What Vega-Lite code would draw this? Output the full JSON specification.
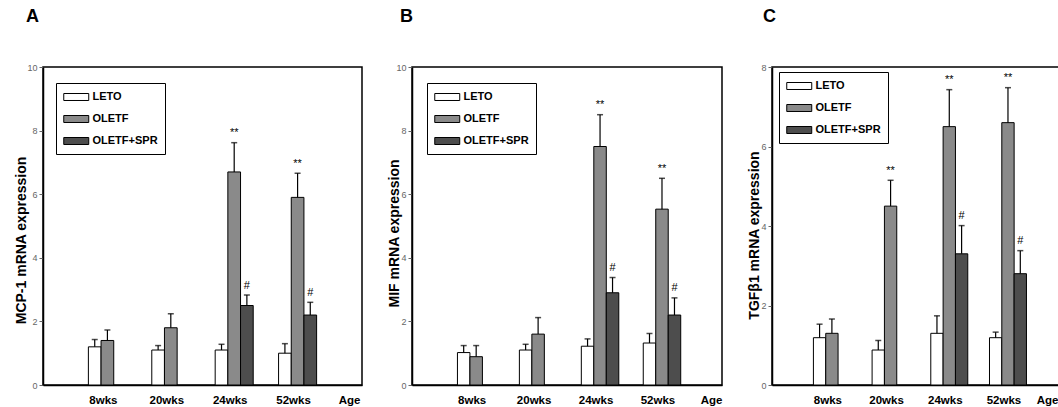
{
  "$schema": "https://vega.github.io/schema/vega-lite/v6.json",
  "autosize": {"type": "pad"},
  "padding": {"left": 13, "top": 7, "right": 0, "bottom": 0},
  "background": "white",
  "config": {
    "view": {"stroke": "black", "strokeWidth": 1.5},
    "font": "Liberation Sans",
    "title": {"anchor": "start", "frame": "group", "fontSize": 18, "fontWeight": "bold", "color": "black", "font": "Liberation Sans", "offset": 37},
    "axisY": {"grid": false, "domainColor": "black", "domainWidth": 1.5, "tickColor": "#666", "tickSize": 4, "labelColor": "#666", "labelFontSize": 9, "labelPadding": 2, "titleFontSize": 14, "titleFontWeight": "bold", "titleColor": "black", "titleX": -22, "titleBaseline": "middle", "titleAlign": "center"},
    "axisX": {"labelAngle": 0, "ticks": false, "tickSize": 0, "labelPadding": 9, "labelFontSize": 11.5, "labelFontWeight": "bold", "labelColor": "black", "labelOffset": -4, "domainColor": "black", "domainWidth": 1.5, "titleY": 18, "titleAlign": "right", "titleBaseline": "alphabetic", "titleFontSize": 11.5, "titleFontWeight": "bold", "titleColor": "black"},
    "legend": {"orient": "none", "title": null, "strokeColor": "black", "fillColor": "white", "padding": 7, "symbolType": "M-1,-0.56H3V0.56H-1Z", "symbolSize": 156, "symbolStrokeColor": "black", "symbolStrokeWidth": 1, "labelFontSize": 11, "labelFontWeight": "bold", "labelColor": "black", "labelFont": "Liberation Sans", "rowPadding": 9, "labelOffset": 15.5}
  },
  "data": {"values": [
    {"panel": "A", "age": "8wks", "group": "LETO", "value": 1.2, "err": 1.43, "sig": ""},
    {"panel": "A", "age": "8wks", "group": "OLETF", "value": 1.4, "err": 1.73, "sig": ""},
    {"panel": "A", "age": "20wks", "group": "LETO", "value": 1.1, "err": 1.24, "sig": ""},
    {"panel": "A", "age": "20wks", "group": "OLETF", "value": 1.8, "err": 2.24, "sig": ""},
    {"panel": "A", "age": "24wks", "group": "LETO", "value": 1.1, "err": 1.28, "sig": ""},
    {"panel": "A", "age": "24wks", "group": "OLETF", "value": 6.7, "err": 7.62, "sig": "**"},
    {"panel": "A", "age": "24wks", "group": "OLETF+SPR", "value": 2.5, "err": 2.83, "sig": "#"},
    {"panel": "A", "age": "52wks", "group": "LETO", "value": 1.0, "err": 1.3, "sig": ""},
    {"panel": "A", "age": "52wks", "group": "OLETF", "value": 5.9, "err": 6.66, "sig": "**"},
    {"panel": "A", "age": "52wks", "group": "OLETF+SPR", "value": 2.2, "err": 2.6, "sig": "#"},
    {"panel": "B", "age": "8wks", "group": "LETO", "value": 1.02, "err": 1.24, "sig": ""},
    {"panel": "B", "age": "8wks", "group": "OLETF", "value": 0.89, "err": 1.24, "sig": ""},
    {"panel": "B", "age": "20wks", "group": "LETO", "value": 1.1, "err": 1.28, "sig": ""},
    {"panel": "B", "age": "20wks", "group": "OLETF", "value": 1.6, "err": 2.12, "sig": ""},
    {"panel": "B", "age": "24wks", "group": "LETO", "value": 1.22, "err": 1.45, "sig": ""},
    {"panel": "B", "age": "24wks", "group": "OLETF", "value": 7.5, "err": 8.5, "sig": "**"},
    {"panel": "B", "age": "24wks", "group": "OLETF+SPR", "value": 2.9, "err": 3.38, "sig": "#"},
    {"panel": "B", "age": "52wks", "group": "LETO", "value": 1.32, "err": 1.62, "sig": ""},
    {"panel": "B", "age": "52wks", "group": "OLETF", "value": 5.53, "err": 6.5, "sig": "**"},
    {"panel": "B", "age": "52wks", "group": "OLETF+SPR", "value": 2.2, "err": 2.74, "sig": "#"},
    {"panel": "C", "age": "8wks", "group": "LETO", "value": 1.19, "err": 1.53, "sig": ""},
    {"panel": "C", "age": "8wks", "group": "OLETF", "value": 1.3, "err": 1.66, "sig": ""},
    {"panel": "C", "age": "20wks", "group": "LETO", "value": 0.88, "err": 1.12, "sig": ""},
    {"panel": "C", "age": "20wks", "group": "OLETF", "value": 4.5, "err": 5.15, "sig": "**"},
    {"panel": "C", "age": "24wks", "group": "LETO", "value": 1.3, "err": 1.74, "sig": ""},
    {"panel": "C", "age": "24wks", "group": "OLETF", "value": 6.5, "err": 7.43, "sig": "**"},
    {"panel": "C", "age": "24wks", "group": "OLETF+SPR", "value": 3.3, "err": 4.01, "sig": "#"},
    {"panel": "C", "age": "52wks", "group": "LETO", "value": 1.19, "err": 1.33, "sig": ""},
    {"panel": "C", "age": "52wks", "group": "OLETF", "value": 6.6, "err": 7.48, "sig": "**"},
    {"panel": "C", "age": "52wks", "group": "OLETF+SPR", "value": 2.8, "err": 3.38, "sig": "#"}
  ]},
  "spacing": 50,
  "bounds": "flush",
  "resolve": {"scale": {"x": "independent", "y": "independent", "xOffset": "independent", "color": "independent"}, "legend": {"color": "independent"}},
  "hconcat": [
    {
      "width": 319, "height": 318,
      "title": {"text": "A", "dx": -17},
      "transform": [{"filter": "datum.panel === 'A'"}],
      "encoding": {
        "x": {"field": "age", "type": "nominal", "sort": ["8wks", "20wks", "24wks", "52wks"], "scale": {"domain": ["8wks", "20wks", "24wks", "52wks"], "paddingInner": 0.4, "paddingOuter": 0.716, "align": 0.5}, "axis": {"title": "Age", "titleX": 317}},
        "xOffset": {"field": "group", "type": "nominal", "sort": ["LETO", "OLETF", "OLETF+SPR"], "scale": {"domain": ["LETO", "OLETF", "OLETF+SPR"], "paddingInner": 0, "paddingOuter": 0}}
      },
      "layer": [
        {"mark": {"type": "bar", "stroke": "black", "strokeWidth": 1},
         "encoding": {
           "y": {"field": "value", "type": "quantitative", "title": "MCP-1 mRNA expression", "scale": {"domain": [0, 10], "nice": false}, "axis": {"values": [0, 2, 4, 6, 8, 10], "titleY": 173}},
           "color": {"field": "group", "type": "nominal", "scale": {"domain": ["LETO", "OLETF", "OLETF+SPR"], "range": ["#ffffff", "#8a8a8a", "#4d4d4d"]}, "legend": {"legendX": 13, "legendY": 16}}
         }},
        {"mark": {"type": "rule", "color": "black", "strokeWidth": 1.2},
         "encoding": {"y": {"field": "value", "type": "quantitative", "title": "MCP-1 mRNA expression"}, "y2": {"field": "err"}}},
        {"mark": {"type": "tick", "color": "black", "size": 6, "thickness": 1.5},
         "encoding": {"y": {"field": "err", "type": "quantitative", "title": "MCP-1 mRNA expression"}}},
        {"mark": {"type": "text", "color": "black", "fontSize": 11, "baseline": "alphabetic", "dy": -6.5},
         "encoding": {"y": {"field": "err", "type": "quantitative", "title": "MCP-1 mRNA expression"}, "text": {"field": "sig"}}}
      ]
    },
    {
      "width": 310, "height": 318,
      "title": {"text": "B", "dx": -12},
      "transform": [{"filter": "datum.panel === 'B'"}],
      "encoding": {
        "x": {"field": "age", "type": "nominal", "sort": ["8wks", "20wks", "24wks", "52wks"], "scale": {"domain": ["8wks", "20wks", "24wks", "52wks"], "paddingInner": 0.395, "paddingOuter": 0.7, "align": 0.524}, "axis": {"title": "Age", "titleX": 310}},
        "xOffset": {"field": "group", "type": "nominal", "sort": ["LETO", "OLETF", "OLETF+SPR"], "scale": {"domain": ["LETO", "OLETF", "OLETF+SPR"], "paddingInner": 0, "paddingOuter": 0}}
      },
      "layer": [
        {"mark": {"type": "bar", "stroke": "black", "strokeWidth": 1},
         "encoding": {
           "y": {"field": "value", "type": "quantitative", "title": "MIF mRNA expression", "scale": {"domain": [0, 10], "nice": false}, "axis": {"values": [0, 2, 4, 6, 8, 10], "titleY": 166, "titleX": -18}},
           "color": {"field": "group", "type": "nominal", "scale": {"domain": ["LETO", "OLETF", "OLETF+SPR"], "range": ["#ffffff", "#8a8a8a", "#4d4d4d"]}, "legend": {"legendX": 15, "legendY": 16}}
         }},
        {"mark": {"type": "rule", "color": "black", "strokeWidth": 1.2},
         "encoding": {"y": {"field": "value", "type": "quantitative", "title": "MIF mRNA expression"}, "y2": {"field": "err"}}},
        {"mark": {"type": "tick", "color": "black", "size": 6, "thickness": 1.5},
         "encoding": {"y": {"field": "err", "type": "quantitative", "title": "MIF mRNA expression"}}},
        {"mark": {"type": "text", "color": "black", "fontSize": 11, "baseline": "alphabetic", "dy": -6.5},
         "encoding": {"y": {"field": "err", "type": "quantitative", "title": "MIF mRNA expression"}, "text": {"field": "sig"}}}
      ]
    },
    {
      "width": 287, "height": 318,
      "title": {"text": "C", "dx": -9},
      "transform": [{"filter": "datum.panel === 'C'"}],
      "encoding": {
        "x": {"field": "age", "type": "nominal", "sort": ["8wks", "20wks", "24wks", "52wks"], "scale": {"domain": ["8wks", "20wks", "24wks", "52wks"], "paddingInner": 0.37, "paddingOuter": 0.63, "align": 0.56}, "axis": {"title": "Age", "titleX": 286}},
        "xOffset": {"field": "group", "type": "nominal", "sort": ["LETO", "OLETF", "OLETF+SPR"], "scale": {"domain": ["LETO", "OLETF", "OLETF+SPR"], "paddingInner": 0, "paddingOuter": 0}}
      },
      "layer": [
        {"mark": {"type": "bar", "stroke": "black", "strokeWidth": 1},
         "encoding": {
           "y": {"field": "value", "type": "quantitative", "title": "TGFβ1 mRNA expression", "scale": {"domain": [0, 8], "nice": false}, "axis": {"values": [0, 2, 4, 6, 8], "titleY": 168, "titleX": -18}},
           "color": {"field": "group", "type": "nominal", "scale": {"domain": ["LETO", "OLETF", "OLETF+SPR"], "range": ["#ffffff", "#8a8a8a", "#4d4d4d"]}, "legend": {"legendX": 7, "legendY": 5}}
         }},
        {"mark": {"type": "rule", "color": "black", "strokeWidth": 1.2},
         "encoding": {"y": {"field": "value", "type": "quantitative", "title": "TGFβ1 mRNA expression"}, "y2": {"field": "err"}}},
        {"mark": {"type": "tick", "color": "black", "size": 6, "thickness": 1.5},
         "encoding": {"y": {"field": "err", "type": "quantitative", "title": "TGFβ1 mRNA expression"}}},
        {"mark": {"type": "text", "color": "black", "fontSize": 11, "baseline": "alphabetic", "dy": -6.5},
         "encoding": {"y": {"field": "err", "type": "quantitative", "title": "TGFβ1 mRNA expression"}, "text": {"field": "sig"}}}
      ]
    }
  ]
}
